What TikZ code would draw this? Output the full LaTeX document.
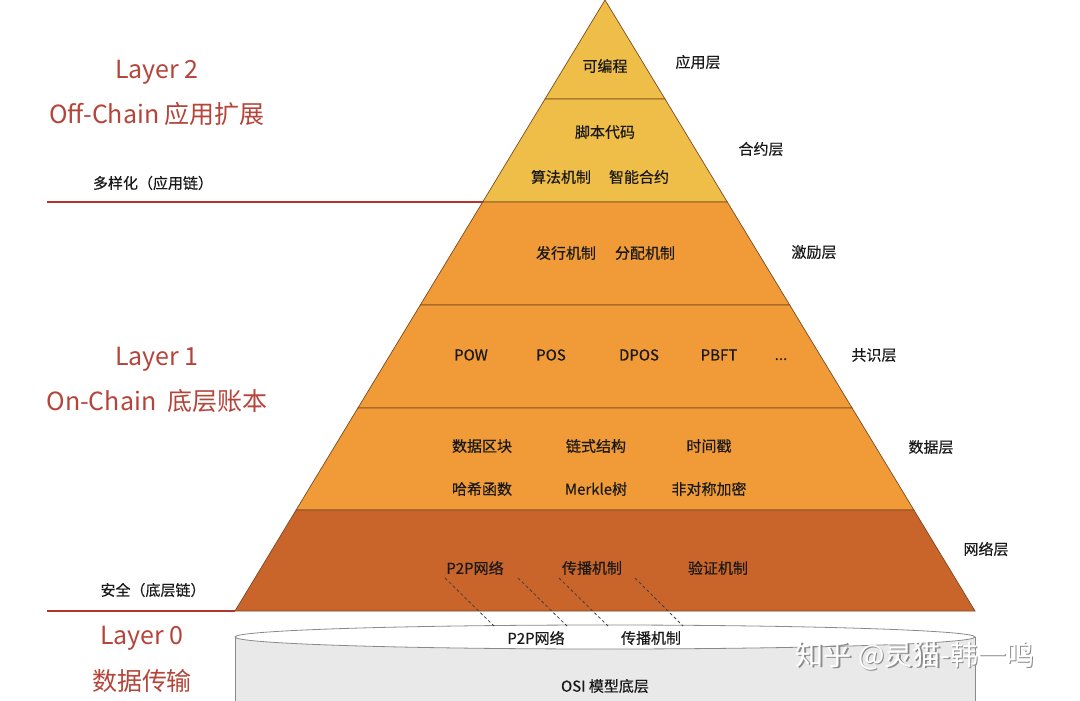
\documentclass[tikz,border=0pt]{standalone}
\usepackage{fontspec}
\setmainfont{Noto Sans CJK SC}
\newfontfamily\boldishfont[FakeBold=0.4]{Noto Sans CJK SC}
\usetikzlibrary{calc}
\definecolor{ygold}{HTML}{EFBE48}
\definecolor{oband}{HTML}{F09B37}
\definecolor{dband}{HTML}{C9642B}
\definecolor{sepc}{HTML}{7A4A20}
\definecolor{redtxt}{HTML}{B5453A}
\definecolor{redline}{HTML}{B0352B}
\definecolor{cylfill}{HTML}{E9E9E9}
\definecolor{cylline}{HTML}{8A8A8A}
\begin{document}
\begin{tikzpicture}[x=1pt,y=-1pt,
  lbl/.style={font=\boldishfont\fontsize{15}{18}\selectfont, text=black!90, inner sep=1pt},
  redlbl/.style={font=\fontsize{25}{29}\selectfont, text=redtxt, inner sep=1pt},
  band/.style={draw=sepc, line width=0.7pt},
  redrule/.style={draw=redline, line width=2.6pt},
  dashc/.style={draw=black!75, line width=0.8pt, dash pattern=on 3pt off 2.5pt}]
\useasboundingbox (0,0) rectangle (1080,701);
% pyramid coordinates
\coordinate (apex) at (605,0);
\coordinate (l1) at (545,99);   \coordinate (r1) at (665,99);
\coordinate (l2) at (482.7,202); \coordinate (r2) at (727.3,202);
\coordinate (l3) at (420.3,305); \coordinate (r3) at (789.7,305);
\coordinate (l4) at (357.9,408); \coordinate (r4) at (852.1,408);
\coordinate (l5) at (296.1,510); \coordinate (r5) at (913.9,510);
\coordinate (l6) at (235,611);  \coordinate (r6) at (975,611);
% cylinder
\fill[cylfill] (235,637) rectangle (975,701);
\draw[cylline, line width=0.8pt] (235,637) -- (235,701) (975,637) -- (975,701);
\draw[cylline, line width=0.8pt, fill=white] (605,637) ellipse [x radius=370, y radius=12];
% bands
\filldraw[band, fill=ygold] (apex) -- (r1) -- (l1) -- cycle;
\filldraw[band, fill=ygold] (l1) -- (r1) -- (r2) -- (l2) -- cycle;
\filldraw[band, fill=oband] (l2) -- (r2) -- (r3) -- (l3) -- cycle;
\filldraw[band, fill=oband] (l3) -- (r3) -- (r4) -- (l4) -- cycle;
\filldraw[band, fill=oband] (l4) -- (r4) -- (r5) -- (l5) -- cycle;
\filldraw[band, fill=dband] (l5) -- (r5) -- (r6) -- (l6) -- cycle;
% red rules
\coordinate (ra) at (47,202);
\coordinate (rb) at (47,611);
\draw[redrule] (ra) -- (l2);
\draw[redrule] (rb) -- (l6);
% left labels
\node[redlbl] (lay2) at (157,72) {Layer 2};
\node[redlbl] (lay2b) at (157,114) {Off-Chain 应用扩展};
\node[redlbl] (lay1) at (157,359) {Layer 1};
\node[redlbl] (lay1b) at (157,401) {On-Chain\ \ 底层账本};
\node[redlbl] (lay0) at (142,638) {Layer 0};
\node[redlbl] (lay0b) at (142,681) {数据传输};
\node[lbl] (div) at (153,183) {多样化（应用链）};
\node[lbl] (sec) at (153,590) {安全（底层链）};
% right labels
\node[lbl] (n1) at (698,62) {应用层};
\node[lbl] (n2) at (761,149) {合约层};
\node[lbl] (n3) at (814,252) {激励层};
\node[lbl] (n4) at (874,355) {共识层};
\node[lbl] (n5) at (931,447) {数据层};
\node[lbl] (n6) at (986,549) {网络层};
% inside texts
\node[lbl] (a1) at (605,66) {可编程};
\node[lbl] (b1) at (605,132) {脚本代码};
\node[lbl] (b2) at (561,177) {算法机制};
\node[lbl] (b3) at (639,177) {智能合约};
\node[lbl] (c1) at (566,253) {发行机制};
\node[lbl] (c2) at (645,253) {分配机制};
\node[lbl] (d1) at (471,355) {POW};
\node[lbl] (d2) at (551,355) {POS};
\node[lbl] (d3) at (639,355) {DPOS};
\node[lbl] (d4) at (719,355) {PBFT};
\node[lbl, anchor=base] (d5) at (781,360) {...};
\node[lbl] (e1) at (482,446) {数据区块};
\node[lbl] (e2) at (596,446) {链式结构};
\node[lbl] (e3) at (709,446) {时间戳};
\node[lbl] (e4) at (482,489) {哈希函数};
\node[lbl] (e5) at (596,489) {Merkle树};
\node[lbl] (e6) at (709,489) {非对称加密};
\node[lbl] (f1) at (475,568) {P2P网络};
\node[lbl] (f2) at (592,568) {传播机制};
\node[lbl] (f3) at (718,568) {验证机制};
% cylinder texts
\node[lbl] (g1) at (536,638) {P2P网络};
\node[lbl] (g2) at (651,638) {传播机制};
\node[lbl] (g3) at (605,686) {OSI 模型底层};
% dashed connectors
\coordinate (p1a) at (445,578); \coordinate (p1b) at (494,626);
\coordinate (p2a) at (518,578); \coordinate (p2b) at (567,626);
\coordinate (p3a) at (559,578); \coordinate (p3b) at (608,626);
\coordinate (p4a) at (635,578); \coordinate (p4b) at (683,626);
\draw[dashc] (p1a) -- (p1b);
\draw[dashc] (p2a) -- (p2b);
\draw[dashc] (p3a) -- (p3b);
\draw[dashc] (p4a) -- (p4b);
% watermark
\node[font=\fontsize{28}{32}\selectfont, text=black!45, inner sep=0pt] (wms) at (916.5,657.5) {知乎 @灵猫-韩一鸣};
\node[font=\fontsize{28}{32}\selectfont, text=white, inner sep=0pt] (wm) at (915,656) {知乎 @灵猫-韩一鸣};
\end{tikzpicture}
\end{document}
